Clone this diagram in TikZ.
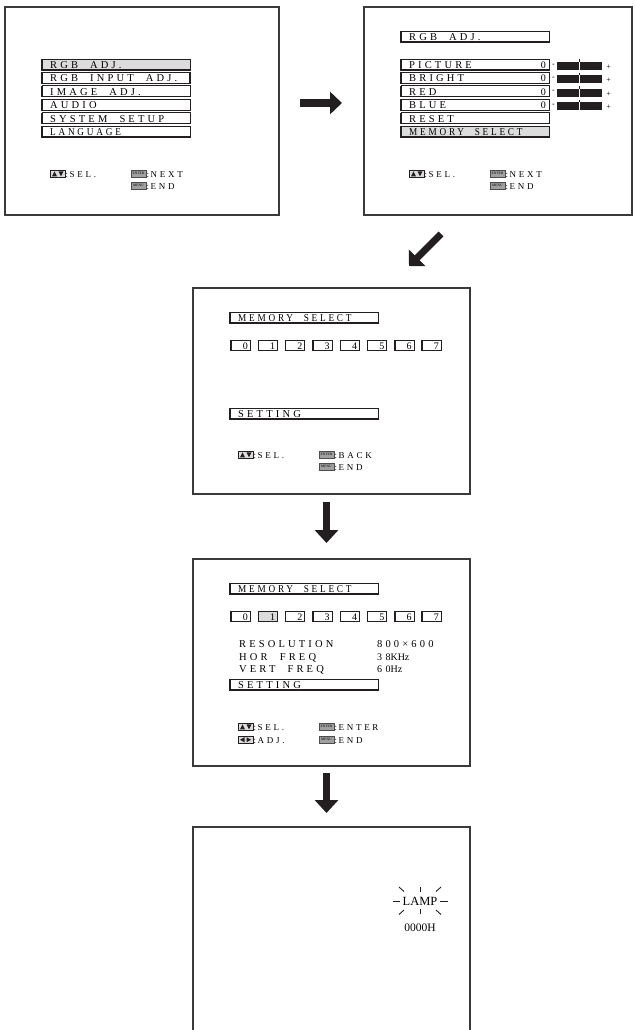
\documentclass[tikz,border=0pt]{standalone}
\usepackage{fontspec}
\setmainfont{Liberation Serif}
\newfontfamily\spcfont[LetterSpace=30,WordSpace=2.1]{Liberation Serif}
\usetikzlibrary{arrows.meta}
\definecolor{ink}{HTML}{231F20}
\definecolor{frame}{HTML}{3A3A3A}
\definecolor{hilite}{HTML}{DCDCDC}
\definecolor{keygray}{HTML}{A0A0A0}
\newcommand\itemfont{\spcfont\fontsize{10.5}{12}\selectfont}
\newcommand\legfont{\spcfont\fontsize{9}{10}\selectfont}
\newcommand\numfont{\fontsize{10}{12}\selectfont}
\newcommand\narrow[1]{\scalebox{0.88}[1]{#1}}
% menu item: #1 extra style, #2 name, #3 x, #4 y, #5 text
\newcommand\MItem[5][]{%
  \draw[itembox,#1] (#3,#4) rectangle ++(148,11);
  \draw[edgeL] (#3,#4) -- ++(0,11) -- ++(148,0);
  \node[lbl] (#2) at (#3+8,#4+9.5) {#5};
}
% number box: #1 extra, #2 name, #3 x, #4 y, #5 digit
\newcommand\NBox[5][]{%
  \draw[itembox,#1] (#3,#4) rectangle ++(19,10.5);
  \draw[edgeL] (#3,#4) -- ++(0,10.5) -- ++(19,0);
  \node[anchor=base east,inner sep=0,font=\numfont] (#2) at (#3+17,#4+9) {#5};
}
% up/down key legend
\newcommand\LegUD[4]{%
  \draw[icon] (#2,#3) rectangle ++(15,7.5);
  \fill[ink] (#2+2,#3+6.3) -- (#2+7,#3+6.3) -- (#2+4.5,#3+1.3) -- cycle;
  \fill[ink] (#2+8.5,#3+1.3) -- (#2+13.5,#3+1.3) -- (#2+11,#3+6.3) -- cycle;
  \node[leg] (#1) at (#2+15.5,#3+7.5) {:\,#4};
}
% left/right key legend
\newcommand\LegLR[4]{%
  \draw[icon] (#2,#3) rectangle ++(15,7.5);
  \fill[ink] (#2+2,#3+3.75) -- (#2+6.5,#3+1.2) -- (#2+6.5,#3+6.3) -- cycle;
  \fill[ink] (#2+13,#3+3.75) -- (#2+8.5,#3+1.2) -- (#2+8.5,#3+6.3) -- cycle;
  \node[leg] (#1) at (#2+15.5,#3+7.5) {:\,#4};
}
% labelled key legend: #1 name, #2 x, #3 y, #4 key, #5 text
\newcommand\LegKey[5]{%
  \node[keyicon] (#1k) at (#2+7.5,#3+3.75) {#4};
  \node[leg] (#1) at (#2+15.5,#3+7.5) {:\,#5};
}
% slider row: #1 name, #2 y
\newcommand\Slider[2]{%
  \node[anchor=base east,inner sep=0,font=\numfont] (#1v) at (182,#2+9.5) {0};
  \node[inner sep=0,font=\fontsize{8}{9}\selectfont] (#1m) at (189.5,#2+6) {-};
  \fill[ink] (193,#2+3) rectangle (238,#2+11);
  \draw[white,line width=0.8pt] (215,#2+3) -- (215,#2+11);
  \draw[ink,line width=0.6pt] (215,#2+0.5) -- (215,#2+3);
  \node[inner sep=0,font=\fontsize{8}{9}\selectfont] (#1p) at (244.5,#2+8) {+};
}
\begin{document}
\begin{tikzpicture}[x=1pt,y=-1pt,
  screen/.style={draw=frame,line width=1.1pt,fill=white,anchor=north west,inner sep=0,outer sep=0},
  itembox/.style={draw=ink,line width=0.6pt},
  edgeL/.style={draw=ink,line width=1.3pt,line join=miter},
  lbl/.style={anchor=base west,inner sep=0,font=\itemfont},
  plain/.style={anchor=base west,inner sep=0,font=\itemfont},
  leg/.style={anchor=base west,inner sep=0,font=\legfont},
  icon/.style={draw=ink,line width=0.9pt,fill=hilite},
  keyicon/.style={draw=ink!80,line width=0.4pt,fill=keygray,minimum width=15pt,minimum height=7.5pt,inner sep=0,font=\fontsize{3.6}{4}\selectfont},
  ray/.style={draw=ink,line width=0.9pt},
  blockarrow/.style={draw=ink,line cap=butt}]
\useasboundingbox (0,0) rectangle (635,1030);

% ---------- screens ----------
\node[screen,minimum width=274pt,minimum height=208pt] (s1) at (5,7) {};
\node[screen,minimum width=268pt,minimum height=208pt] (s2) at (364,7) {};
\node[screen,minimum width=277pt,minimum height=206pt] (s3) at (193,288) {};
\node[screen,minimum width=277pt,minimum height=207pt] (s4) at (193,559) {};
\node[screen,minimum width=277pt,minimum height=220pt] (s5) at (193,827) {};

% ---------- screen 1 ----------
\begin{scope}[shift={(s1.north west)}]
  \MItem[fill=hilite]{s1a}{37}{52}{RGB ADJ.}
  \MItem[line width=1.2pt]{s1b}{37}{65.4}{RGB INPUT ADJ.}
  \MItem{s1c}{37}{78.8}{IMAGE ADJ.}
  \MItem{s1d}{37}{92.2}{AUDIO}
  \MItem{s1e}{37}{105.6}{SYSTEM SETUP}
  \MItem{s1f}{37}{119}{\narrow{LANGUAGE}}
  \LegUD{s1l1}{45}{163}{SEL.}
  \LegKey{s1l2}{126}{163}{ENTER}{NEXT}
  \LegKey{s1l3}{126}{175}{MENU}{END}
\end{scope}

% ---------- screen 2 ----------
\begin{scope}[shift={(s2.north west)}]
  \MItem{s2h}{37}{24}{RGB ADJ.}
  \MItem{s2a}{37}{52}{PICTURE}
  \MItem{s2b}{37}{65.4}{BRIGHT}
  \MItem{s2c}{37}{78.8}{RED}
  \MItem{s2d}{37}{92.2}{BLUE}
  \MItem{s2e}{37}{105.6}{RESET}
  \MItem[fill=hilite]{s2f}{37}{119}{\narrow{MEMORY SELECT}}
  \Slider{s2sa}{52}
  \Slider{s2sb}{65.4}
  \Slider{s2sc}{78.8}
  \Slider{s2sd}{92.2}
  \LegUD{s2l1}{45}{163}{SEL.}
  \LegKey{s2l2}{126}{163}{ENTER}{NEXT}
  \LegKey{s2l3}{126}{175}{MENU}{END}
\end{scope}

% ---------- screen 3 ----------
\begin{scope}[shift={(s3.north west)}]
  \MItem{s3h}{37}{24}{\narrow{MEMORY SELECT}}
  \foreach \d in {0,...,7} {\NBox{s3n\d}{38+27.3*\d}{52}{\d}}
  \MItem{s3s}{37}{120}{SETTING}
  \LegUD{s3l1}{45}{163}{SEL.}
  \LegKey{s3l2}{126}{163}{ENTER}{BACK}
  \LegKey{s3l3}{126}{175}{MENU}{END}
\end{scope}

% ---------- screen 4 ----------
\begin{scope}[shift={(s4.north west)}]
  \MItem{s4h}{37}{24}{\narrow{MEMORY SELECT}}
  \foreach \d in {0,2,3,4,5,6,7} {\NBox{s4n\d}{38+27.3*\d}{52}{\d}}
  \NBox[fill=hilite]{s4n1}{65.3}{52}{1}
  \node[plain] (s4r1) at (46,88.5) {RESOLUTION};
  \node[plain] (s4v1) at (184,88.5) {800×600};
  \node[plain] (s4r2) at (46,101) {HOR FREQ};
  \node[anchor=base west,inner sep=0,font=\numfont] (s4v2) at (184,101) {3\,\,8KHz};
  \node[plain] (s4r3) at (46,113.5) {VERT FREQ};
  \node[anchor=base west,inner sep=0,font=\numfont] (s4v3) at (184,113.5) {6\,\,0Hz};
  \MItem{s4s}{37}{120}{SETTING}
  \LegUD{s4l1}{45}{164}{SEL.}
  \LegLR{s4l2}{45}{177}{ADJ.}
  \LegKey{s4l3}{126}{164}{ENTER}{ENTER}
  \LegKey{s4l4}{126}{177}{MENU}{END}
\end{scope}

% ---------- screen 5 ----------
\begin{scope}[shift={(s5.north west)}]
  \node[inner sep=0,font=\fontsize{12.5}{14}\selectfont] (lamp) at (227,74) {LAMP};
  \node[inner sep=0,font=\fontsize{11.5}{14}\selectfont] (hours) at (227,101) {0000H};
  \draw[ray] (200,74) -- (207,74);
  \draw[ray] (247,74) -- (255,74);
  \draw[ray] (227,60) -- (227,65);
  \draw[ray] (227,82) -- (227,87);
  \draw[ray] (206,60) -- (211,64.5);
  \draw[ray] (243,64.5) -- (248,60);
  \draw[ray] (206,87.5) -- (211,83);
  \draw[ray] (243,83) -- (248,87.5);
\end{scope}

% ---------- arrows ----------
\coordinate (a1s) at (300,103);
\coordinate (a1e) at (342,103);
\coordinate (a2s) at (441,234);
\coordinate (a2e) at (409,266);
\coordinate (a3s) at (326.5,502);
\coordinate (a3e) at (326.5,543);
\coordinate (a4s) at (326.5,773);
\coordinate (a4e) at (326.5,813);
\draw[blockarrow,line width=8pt,-{Triangle[length=12pt,width=22pt]}] (a1s) -- (a1e);
\draw[blockarrow,line width=7pt,-{Triangle[length=11.5pt,width=23pt]}] (a2s) -- (a2e);
\draw[blockarrow,line width=7pt,-{Triangle[length=13pt,width=23pt]}] (a3s) -- (a3e);
\draw[blockarrow,line width=7pt,-{Triangle[length=13pt,width=23pt]}] (a4s) -- (a4e);
\end{tikzpicture}
\end{document}
